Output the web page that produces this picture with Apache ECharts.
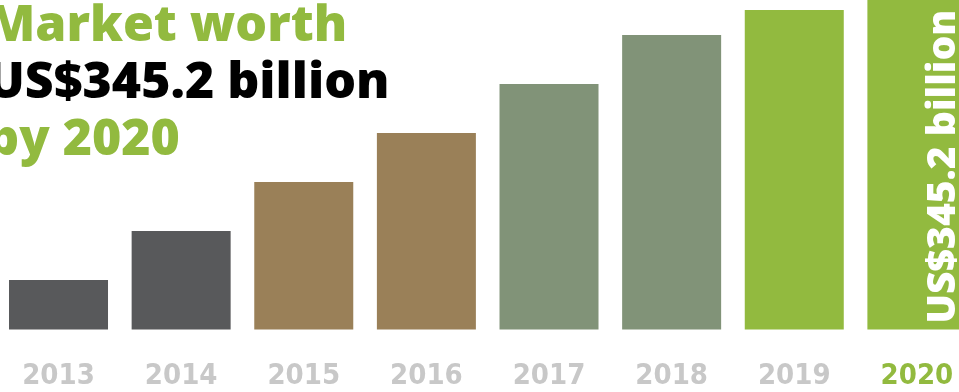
<!DOCTYPE html>
<html>
<head>
<meta charset="utf-8">
<script src="https://cdn.jsdelivr.net/npm/echarts@6/dist/echarts.min.js"></script>
<style>
html,body{margin:0;padding:0;background:#fff;}
#c{width:959px;height:392px;}
</style>
</head>
<body>
<div id="c"></div>
<script>
// Data
var years = ['2013', '2014', '2015', '2016', '2017', '2018', '2019', '2020'];
var values = [49.5, 98.5, 147.5, 196.5, 245.5, 294.5, 319.5, 345.2];
var headlineLines = ['Market worth', 'US$345.2 billion', 'by 2020'];
var barLabel = 'US$345.2 billion';

// Styles
var barColors = ['#58595b', '#58595b', '#9a8058', '#9a8058', '#819378', '#819378', '#92ba3f', '#92ba3f'];
var green = '#92ba3f';

var chart = echarts.init(document.getElementById('c'), null, {renderer: 'canvas'});

var seriesData = values.map(function (v, i) {
  var item = {value: v, itemStyle: {color: barColors[i]}};
  if (i === values.length - 1) {
    item.label = {
      show: true,
      position: 'insideBottom',
      rotate: 90,
      align: 'left',
      verticalAlign: 'middle',
      distance: 6,
      offset: [0, 27],
      formatter: barLabel,
      color: '#ffffff',
      fontFamily: 'Open Sans',
      fontWeight: 800,
      fontSize: 39
    };
  }
  return item;
});

chart.setOption({
  animation: false,
  title: {
    left: -18,
    top: -7,
    text: '{g|' + headlineLines[0] + '}\n{k|' + headlineLines[1] + '}\n{g|' + headlineLines[2] + '}',
    textStyle: {
      rich: {
        g: {color: green, fontFamily: 'Open Sans', fontWeight: 800, fontSize: 50, lineHeight: 57},
        k: {color: '#000000', fontFamily: 'Open Sans', fontWeight: 800, fontSize: 50, lineHeight: 57}
      }
    }
  },
  grid: {left: -2.8, width: 981, top: 0, bottom: 62.5, containLabel: false, outerBoundsMode: 'none'},
  xAxis: {
    type: 'category',
    data: years,
    axisLine: {show: false},
    axisTick: {show: false},
    axisLabel: {
      margin: 32,
      fontFamily: "'Liberation Sans Narrow', 'DejaVu Sans Condensed', sans-serif",
      fontWeight: 'bold',
      fontSize: 29,
      color: function (v, i) { return v === '2020' ? green : '#c8c8c8'; }
    }
  },
  yAxis: {
    type: 'value',
    min: 0,
    max: 329.5,
    show: false,
    splitLine: {show: false}
  },
  series: [{
    type: 'bar',
    data: seriesData,
    barWidth: 99,
    clip: true
  }]
});
</script>
</body>
</html>
